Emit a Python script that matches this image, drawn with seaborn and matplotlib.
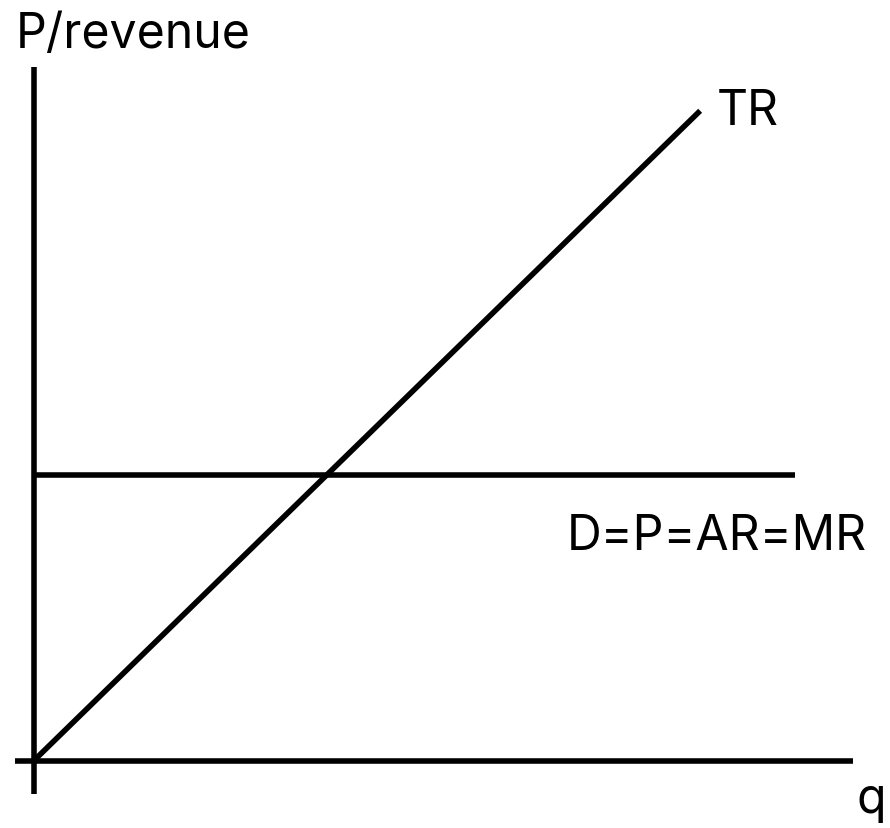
import numpy as np
import pandas as pd
import matplotlib
matplotlib.use("Agg")
import matplotlib.pyplot as plt
import seaborn as sns

# data (arbitrary units)
q_tr = [0, 10.0]
tr = [0, 9.8]
q_demand = [0, 11.43]
price = [4.3, 4.3]
x_axis = [-0.285, 12.3]
y_axis = [-0.505, 10.46]

sns.set_theme(style="white")
plt.rcParams['font.family'] = ['Inter', 'DejaVu Sans']

fig = plt.figure(figsize=(8.9, 8.29), dpi=100)
ax = fig.add_axes([0, 0, 1, 1])

lw = 4.0
kw = dict(color='black', linewidth=lw, solid_capstyle='butt', ax=ax)

sns.lineplot(x=x_axis, y=[0, 0], **kw)
sns.lineplot(x=[0, 0], y=y_axis, orient='y', **kw)
sns.lineplot(x=q_tr, y=tr, **kw)
sns.lineplot(x=q_demand, y=price, **kw)

fs = 34.7
tk = dict(fontsize=fs, va='baseline', ha='left', color='black')
ax.text(-0.28, 10.76, 'P/revenue', **tk)
ax.text(10.25, 9.6, 'TR', **tk)
ax.text(8.0, 3.19, 'D=P=AR=MR', **tk)
ax.text(12.34, -0.78, 'q', **tk)

ax.set_xlim(-0.51, 12.85)
ax.set_ylim(-1.018, 11.486)
ax.axis('off')

fig.savefig('out.png', dpi=100, facecolor='white')
